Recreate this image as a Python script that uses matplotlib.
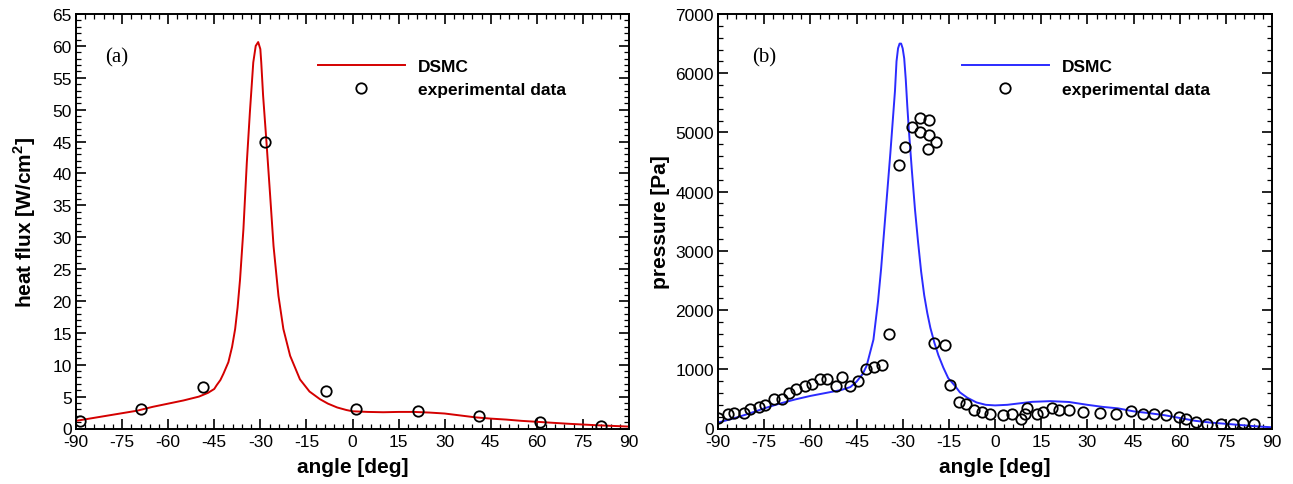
import matplotlib
matplotlib.use('Agg')
import matplotlib.pyplot as plt
from matplotlib.ticker import MultipleLocator

plt.rcParams['font.family'] = ['Liberation Sans', 'DejaVu Sans']
plt.rcParams['axes.unicode_minus'] = False
plt.rcParams['mathtext.fontset'] = 'custom'
plt.rcParams['mathtext.rm'] = 'Liberation Sans'
plt.rcParams['mathtext.bf'] = 'Liberation Sans:bold'

# (a) heat flux, DSMC curve
hf_angle = [-90, -85, -80, -75, -70, -68.8, -65, -60, -55, -50, -47, -45, -44.2, -43,
            -42, -40.4, -39.2, -38.2, -37.4, -36.6, -35.5, -34.4, -33.4, -32.3, -31.5,
            -30.7, -30.0, -29.7, -29.1, -28.0, -26.8, -25.7, -24.1, -22.5, -20.3, -17.1,
            -14, -10.6, -8, -5, -2, 0, 5, 10, 15, 20, 25, 30, 35, 40, 45, 50, 55, 60,
            65, 70, 75, 80, 85, 90]
hf_dsmc = [1.2, 1.6, 2.0, 2.4, 2.8, 2.95, 3.4, 3.9, 4.4, 5.0, 5.6, 6.2, 6.8, 7.6,
           8.6, 10.4, 12.8, 15.6, 19.0, 23.4, 31.3, 41.7, 49.6, 57.4, 60.0,
           60.6, 59.5, 57.4, 52.2, 44.9, 36.5, 28.6, 20.8, 15.6, 11.4, 7.7,
           5.8, 4.6, 3.9, 3.3, 2.9, 2.7, 2.6, 2.55, 2.6, 2.6, 2.5, 2.35, 2.05, 1.75,
           1.55, 1.4, 1.2, 1.05, 0.9, 0.75, 0.62, 0.5, 0.4, 0.3]
hf_exp_angle = [-88.8, -68.8, -48.8, -28.5, -8.7, 1.2, 21.2, 41.1, 61.1, 81.0]
hf_exp = [1.15, 3.0, 6.55, 44.9, 5.9, 3.1, 2.8, 1.9, 1.0, 0.4]

# (b) pressure
p_angle = [-90, -85, -80, -75, -70, -65, -60, -55, -50, -47, -45, -43, -41.7, -40.5,
           -39.5, -38, -37, -36, -35, -34, -33, -32.5, -32, -31.5, -31, -30.5, -30,
           -29.5, -29, -28.5, -28, -27, -26, -25, -24, -23, -22, -21, -19.7, -18.4,
           -16.8, -15.2, -13, -11.4, -9, -6, -3, 0, 4, 8, 12, 18, 24, 30, 35, 40, 45,
           50, 55, 60, 65, 70, 76, 84, 90]
p_dsmc = [100, 170, 250, 340, 420, 490, 550, 600, 650, 700, 790, 920, 1060, 1300,
          1500, 2150, 2700, 3350, 4000, 4650, 5350, 5700, 6200, 6420, 6500, 6500, 6420,
          6250, 5900, 5450, 5050, 4350, 3700, 3150, 2650, 2250, 1950, 1700, 1450, 1238,
          1030, 851, 720, 610, 520, 440, 400, 390, 400, 425, 450, 462, 448, 400, 365,
          340, 290, 260, 225, 178, 130, 100, 75, 40, 20]
p_exp_angle = [-89.9, -86.9, -84.7, -81.7, -79.6, -76.8, -74.7, -71.9, -69.3, -66.8,
               -64.5, -61.8, -59.3, -56.8, -54.5, -51.7, -49.6, -47.0, -44.4, -41.8,
               -39.3, -36.8, -34.5, -31.3, -29.4, -26.9, -24.5, -24.3, -21.4, -21.3,
               -21.7, -19.3, -19.7, -16.3, -14.7, -11.7, -9.4, -6.7, -4.2, -1.7, 2.7,
               5.5, 8.5, 9.8, 10.5, 13.5, 15.5, 18.5, 20.8, 24.0, 28.6, 34.2, 39.2,
               44.1, 48.2, 51.8, 55.5, 59.7, 62.1, 65.2, 68.8, 73.5, 77.2, 80.5, 84.3]
p_exp = [175, 237, 265, 265, 322, 367, 390, 491, 491, 604,
         660, 717, 745, 830, 830, 717, 869, 717, 802, 999,
         1039, 1073, 1603, 4443, 4753, 5092, 5244, 5007, 5216, 4962,
         4725, 4838, 1439, 1406, 734, 452, 406, 310, 282, 248, 231,
         237, 164, 237, 350, 237, 277, 350, 310, 310, 282, 265, 237,
         294, 237, 248, 226, 198, 152, 113, 79, 79, 79, 96, 68]

fig = plt.figure(figsize=(12.93, 4.85), dpi=100)
W, H = 1293, 485
ax1 = fig.add_axes([76 / W, 1 - 429.5 / H, 553 / W, 414.5 / H])
ax2 = fig.add_axes([718 / W, 1 - 429.5 / H, 554 / W, 414.5 / H])


def style(ax, ymax, ymaj, ymin):
    ax.set_xlim(-90, 90)
    ax.set_ylim(0, ymax)
    ax.xaxis.set_major_locator(MultipleLocator(15))
    ax.xaxis.set_minor_locator(MultipleLocator(3))
    ax.yaxis.set_major_locator(MultipleLocator(ymaj))
    ax.yaxis.set_minor_locator(MultipleLocator(ymin))
    ax.tick_params(which='both', direction='in', top=True, right=True,
                   labelsize=12.5, pad=3)
    ax.tick_params(axis='x', which='major', pad=4)
    ax.tick_params(which='major', length=7, width=1.2)
    ax.tick_params(which='minor', length=3.5, width=0.9)
    for s in ax.spines.values():
        s.set_linewidth(1.4)
    ax.set_xlabel('angle [deg]', fontsize=15, fontweight='bold', labelpad=6)


ax1.plot(hf_angle, hf_dsmc, color='#d40000', lw=1.4, label='DSMC')
ax1.plot(hf_exp_angle, hf_exp, 'o', mfc='none', mec='black', ms=7.5, mew=1.3,
         label='experimental data')
style(ax1, 65, 5, 1)
ax1.set_ylabel(r'heat flux [W/cm$^{\mathbf{2}}$]', fontsize=15, fontweight='bold',
               labelpad=10)
ax1.text(0.052, 0.896, '(a)', transform=ax1.transAxes, fontsize=15,
         family='Liberation Serif', va='center')

ax2.plot(p_angle, p_dsmc, color='#2b2bff', lw=1.4, label='DSMC')
ax2.plot(p_exp_angle, p_exp, 'o', mfc='none', mec='black', ms=7.5, mew=1.3,
         label='experimental data')
style(ax2, 7000, 1000, 200)
ax2.set_ylabel('pressure [Pa]', fontsize=15, fontweight='bold', labelpad=4)
ax2.text(0.062, 0.896, '(b)', transform=ax2.transAxes, fontsize=15,
         family='Liberation Serif', va='center')

for ax, x0 in [(ax1, 0.4376), (ax2, 0.440)]:
    ax.legend(loc='upper left', bbox_to_anchor=(x0, 0.892), frameon=False,
              prop={'weight': 'bold', 'size': 12.5}, handlelength=5.0,
              handletextpad=0.75, labelspacing=0.45, borderpad=0, borderaxespad=0,
              numpoints=1)

# lift the "0" y label a little so it doesn't sit on the "-90"
fig.canvas.draw()
for ax in (ax1, ax2):
    ax.yaxis.get_major_ticks()[0].label1.set_verticalalignment('baseline')

fig.savefig('out.png', dpi=100)
